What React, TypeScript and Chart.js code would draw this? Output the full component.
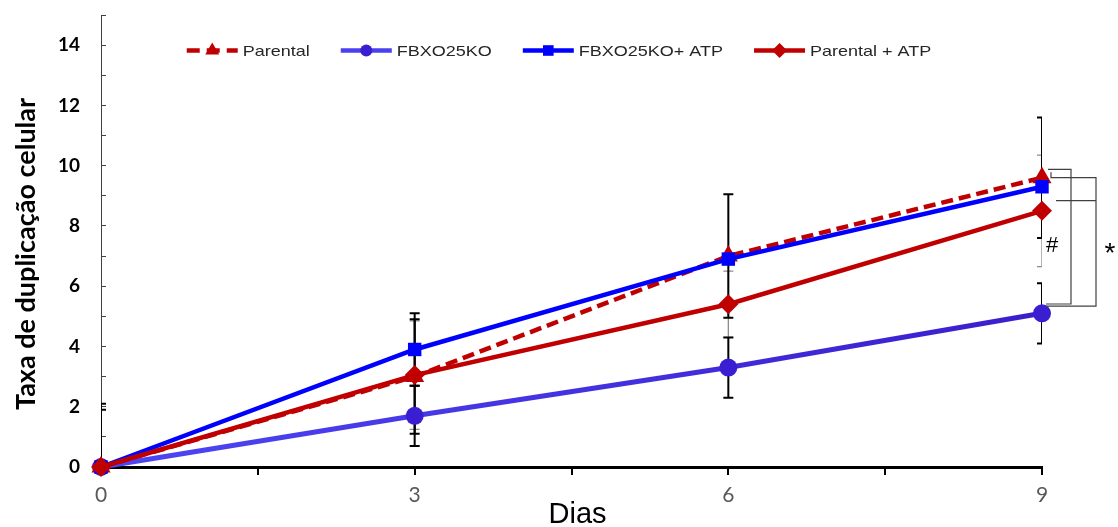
import { useEffect, useRef } from "react";
import { Chart, registerables } from "chart.js";

Chart.register(...registerables);

// Days of culture
const days = [0, 3, 6, 9];
const xTickLabels = [0, 3, 6, 9];
const xMinorTicks = [1.5, 4.5, 7.5];
const yTickLabels = [0, 2, 4, 6, 8, 10, 12, 14];

const seriesNames = ["Parental", "FBXO25KO", "FBXO25KO+ ATP", "Parental + ATP"];

// Cell duplication rate per series, with symmetric error (± SD)
const parental = [0, 3.0, 7.0, 9.6];
const parentalErr = [2.1, 1.9, 2.05, 2.0];
const fbxo25ko = [0, 1.7, 3.3, 5.1];
const fbxo25koErr = [1.9, 1.0, 1.0, 1.0];
const fbxo25koAtp = [0, 3.9, 6.9, 9.3];
const fbxo25koAtpErr = [0, 1.2, 0.15, 0.15];
const parentalAtp = [0, 3.05, 5.4, 8.5];
const parentalAtpErr = [0, 1.8, 1.1, 1.85];

// Significance brackets at day 9 (value range covered by each bracket)
const hashBracket = { top: 9.88, bottom: 5.41, label: "#", labelValue: 7.4 };
const starBracket = { top: 9.6, mid: 8.84, bottom: 5.34, label: "*", labelValue: 7.35 };

const RED = "#C00000";
const BLUE = "#0000FF";
const PURPLE = "#3A1ED2";

type Marker = "triangle" | "circle" | "rect" | "rectRot";

function drawMarker(ctx: CanvasRenderingContext2D, style: Marker, x: number, y: number, r: number, color: string) {
  ctx.save();
  ctx.fillStyle = color;
  ctx.beginPath();
  if (style === "circle") {
    ctx.arc(x, y, r, 0, Math.PI * 2);
  } else if (style === "rect") {
    const s = r * Math.SQRT1_2;
    ctx.rect(x - s, y - s, 2 * s, 2 * s);
  } else if (style === "rectRot") {
    ctx.moveTo(x, y - r);
    ctx.lineTo(x + r, y);
    ctx.lineTo(x, y + r);
    ctx.lineTo(x - r, y);
    ctx.closePath();
  } else {
    ctx.moveTo(x, y - r);
    ctx.lineTo(x + r * 0.866, y + r * 0.5);
    ctx.lineTo(x - r * 0.866, y + r * 0.5);
    ctx.closePath();
  }
  ctx.fill();
  ctx.restore();
}

// Error bars are clipped to the plot area
const errorBarsPlugin = {
  id: "errorBars",
  beforeDatasetsDraw(chart: any) {
    const { ctx, chartArea, scales } = chart;
    ctx.save();
    ctx.beginPath();
    ctx.rect(chartArea.left, chartArea.top, chartArea.right - chartArea.left, chartArea.bottom - chartArea.top);
    ctx.clip();
    chart.data.datasets.forEach((ds: any) => {
      const errs: number[] = ds.errorBars;
      if (!errs) return;
      ctx.strokeStyle = ds.errorColor;
      ctx.lineWidth = ds.errorWidth;
      ds.data.forEach((p: any, j: number) => {
        const e = errs[j];
        if (!e) return;
        const x = scales.x.getPixelForValue(p.x);
        const yTop = scales.y.getPixelForValue(p.y + e);
        const yBot = scales.y.getPixelForValue(p.y - e);
        const cap = 5;
        ctx.beginPath();
        ctx.moveTo(x, yTop);
        ctx.lineTo(x, yBot);
        ctx.moveTo(x - cap, yTop);
        ctx.lineTo(x + cap, yTop);
        ctx.moveTo(x - cap, yBot);
        ctx.lineTo(x + cap, yBot);
        ctx.stroke();
      });
    });
    ctx.restore();
  },
};

const bracketsPlugin = {
  id: "brackets",
  afterDatasetsDraw(chart: any) {
    const { ctx, scales } = chart;
    const x9 = scales.x.getPixelForValue(9);
    const y = (v: number) => scales.y.getPixelForValue(v);
    ctx.save();
    ctx.strokeStyle = "#404040";
    ctx.lineWidth = 1.2;
    ctx.beginPath();
    // "#" bracket
    ctx.moveTo(x9 + 6, y(hashBracket.top));
    ctx.lineTo(x9 + 29, y(hashBracket.top));
    ctx.lineTo(x9 + 29, y(hashBracket.bottom));
    ctx.lineTo(x9 + 4, y(hashBracket.bottom));
    // "*" bracket
    ctx.moveTo(x9 + 9, y(hashBracket.top) + 3);
    ctx.lineTo(x9 + 9, y(starBracket.top));
    ctx.lineTo(x9 + 54, y(starBracket.top));
    ctx.lineTo(x9 + 54, y(starBracket.bottom));
    ctx.lineTo(x9 + 4, y(starBracket.bottom));
    ctx.moveTo(x9 + 14, y(starBracket.mid));
    ctx.lineTo(x9 + 54, y(starBracket.mid));
    ctx.stroke();

    ctx.fillStyle = "#000";
    ctx.textAlign = "center";
    ctx.textBaseline = "alphabetic";
    ctx.font = "22px 'Liberation Sans', Arial, sans-serif";
    ctx.fillText(hashBracket.label, x9 + 10, y(hashBracket.labelValue) + 8);
    ctx.font = "28px 'Liberation Sans', Arial, sans-serif";
    ctx.fillText(starBracket.label, x9 + 68, y(starBracket.labelValue) + 16);
    ctx.restore();
  },
};

const legendPlugin = {
  id: "lineLegend",
  afterDraw(chart: any) {
    const { ctx } = chart;
    const items = chart.data.datasets.map((ds: any) => ds).sort((a: any, b: any) => a.legendIndex - b.legendIndex);
    const font = "15px 'Liberation Sans', Arial, sans-serif";
    const stretch = 1.2;
    const lineLen = 51;
    const textGap = 5;
    const itemGap = 31;
    ctx.save();
    ctx.font = font;
    const widths = items.map((ds: any) => lineLen + textGap + ctx.measureText(ds.label).width * stretch);
    const total = widths.reduce((a: number, b: number) => a + b, 0) + itemGap * (items.length - 1);
    let x = chart.width / 2 - total / 2;
    const yc = 50.5;
    items.forEach((ds: any, i: number) => {
      ctx.save();
      ctx.strokeStyle = ds.legendColor;
      ctx.lineWidth = 4.5;
      ctx.lineCap = "butt";
      if (ds.borderDash && ds.borderDash.length) ctx.setLineDash([13, 7]);
      ctx.beginPath();
      ctx.moveTo(x, yc);
      ctx.lineTo(x + lineLen, yc);
      ctx.stroke();
      ctx.restore();
      drawMarker(ctx, ds.pointStyle, x + lineLen / 2, yc, ds.legendMarkerRadius, ds.pointBackgroundColor);
      ctx.save();
      ctx.fillStyle = "#262626";
      ctx.textBaseline = "middle";
      ctx.textAlign = "left";
      ctx.font = font;
      ctx.translate(x + lineLen + textGap, yc + 1);
      ctx.scale(stretch, 1);
      ctx.fillText(ds.label, 0, 0);
      ctx.restore();
      x += widths[i] + itemGap;
    });
    ctx.restore();
  },
};

const axisTitlesPlugin = {
  id: "axisTitles",
  afterDraw(chart: any) {
    const { ctx, chartArea } = chart;
    ctx.save();
    ctx.fillStyle = "#000";
    ctx.font = "bold 27px Lato, 'Open Sans', sans-serif";
    ctx.textAlign = "center";
    ctx.textBaseline = "middle";
    ctx.translate(26, (chartArea.top + chartArea.bottom) / 2 + 13);
    ctx.rotate(-Math.PI / 2);
    ctx.fillText("Taxa de duplicação celular", 0, 0);
    ctx.restore();

    ctx.save();
    ctx.fillStyle = "#000";
    ctx.font = "29px 'Liberation Sans', Arial, sans-serif";
    ctx.textAlign = "center";
    ctx.textBaseline = "alphabetic";
    ctx.fillText("Dias", (chartArea.left + chartArea.right) / 2 + 6, 523);
    ctx.restore();
  },
};

function toPoints(values: number[]) {
  return days.map((d, i) => ({ x: d, y: values[i] }));
}

function purpleGradient(context: any) {
  const { chart } = context;
  const area = chart.chartArea;
  if (!area) return "#4638EC";
  const g = chart.ctx.createLinearGradient(area.left, 0, area.right, 0);
  g.addColorStop(0, "#4D46F4");
  g.addColorStop(1, "#3A1ECC");
  return g;
}

export default function App() {
  const canvasRef = useRef<HTMLCanvasElement | null>(null);

  useEffect(() => {
    document.body.style.margin = "0";
    const canvas = canvasRef.current;
    if (!canvas) return;

    const chart = new Chart(canvas, {
      type: "line",
      data: {
        datasets: [
          {
            label: seriesNames[3],
            data: toPoints(parentalAtp),
            borderColor: RED,
            legendColor: RED,
            borderWidth: 4.5,
            pointStyle: "rectRot",
            pointRadius: 10,
            pointBackgroundColor: RED,
            pointBorderWidth: 0,
            legendMarkerRadius: 7.5,
            errorBars: parentalAtpErr,
            errorColor: "#8C8C8C",
            errorWidth: 1.3,
            legendIndex: 3,
            clip: false,
          } as any,
          {
            label: seriesNames[2],
            data: toPoints(fbxo25koAtp),
            borderColor: BLUE,
            legendColor: BLUE,
            borderWidth: 4.5,
            pointStyle: "rect",
            pointRadius: 9.5,
            pointBackgroundColor: BLUE,
            pointBorderWidth: 0,
            legendMarkerRadius: 7.5,
            errorBars: fbxo25koAtpErr,
            errorColor: "#000",
            errorWidth: 2,
            legendIndex: 2,
            clip: false,
          } as any,
          {
            label: seriesNames[0],
            data: toPoints(parental),
            borderColor: RED,
            legendColor: RED,
            borderWidth: 4.5,
            borderDash: [12, 6],
            pointStyle: "triangle",
            pointRadius: 11,
            pointBackgroundColor: RED,
            pointBorderWidth: 0,
            legendMarkerRadius: 8,
            errorBars: parentalErr,
            errorColor: "#000",
            errorWidth: 2,
            legendIndex: 0,
            clip: false,
          } as any,
          {
            label: seriesNames[1],
            data: toPoints(fbxo25ko),
            borderColor: purpleGradient,
            legendColor: "#4A40F0",
            borderWidth: 5,
            pointStyle: "circle",
            pointRadius: 9,
            pointBackgroundColor: PURPLE,
            pointBorderWidth: 0,
            legendMarkerRadius: 6,
            errorBars: fbxo25koErr,
            errorColor: "#000",
            errorWidth: 2,
            legendIndex: 1,
            clip: false,
          } as any,
        ],
      },
      options: {
        animation: false,
        responsive: false,
        devicePixelRatio: 1,
        layout: { padding: { left: 0, right: 76, top: 15, bottom: 0 } },
        plugins: {
          legend: { display: false },
          tooltip: { enabled: false },
        },
        elements: { line: { tension: 0 } },
        scales: {
          x: {
            type: "linear",
            min: 0,
            max: 9,
            afterBuildTicks: (scale: any) => {
              scale.ticks = [...xTickLabels, ...xMinorTicks]
                .sort((a, b) => a - b)
                .map((v) => ({ value: v }));
            },
            afterFit: (scale: any) => {
              scale.height = 60;
              scale.paddingLeft = 0;
              scale.paddingRight = 0;
            },
            ticks: {
              autoSkip: false,
              maxRotation: 0,
              padding: 8,
              color: "#595959",
              font: { family: "Lato, 'Open Sans', sans-serif", size: 21 },
              callback: (v: any) => (xTickLabels.includes(Number(v)) ? String(v) : ""),
            },
            grid: {
              drawOnChartArea: false,
              drawTicks: true,
              tickLength: 8,
              color: "#000",
              lineWidth: 2,
            },
            border: { display: true, color: "#000", width: 3 },
          },
          y: {
            type: "linear",
            min: 0,
            max: 15,
            afterFit: (scale: any) => {
              scale.width = 101;
              scale.paddingTop = 0;
              scale.paddingBottom = 0;
            },
            ticks: {
              stepSize: 1,
              autoSkip: false,
              padding: 26,
              color: "#000",
              font: { family: "Lato, 'Open Sans', sans-serif", size: 19, weight: "bold" },
              callback: (v: any) => (yTickLabels.includes(Number(v)) ? String(v) : ""),
            },
            grid: {
              drawOnChartArea: false,
              drawTicks: true,
              tickLength: -5,
              color: "#404040",
              lineWidth: 1,
            },
            border: { display: true, color: "#404040", width: 1 },
          },
        },
      },
      plugins: [errorBarsPlugin, bracketsPlugin, legendPlugin, axisTitlesPlugin],
    } as any);

    return () => chart.destroy();
  }, []);

  return (
    <div style={{ width: 1118, height: 527, overflow: "hidden", background: "#fff" }}>
      <canvas ref={canvasRef} width={1118} height={527} />
    </div>
  );
}
